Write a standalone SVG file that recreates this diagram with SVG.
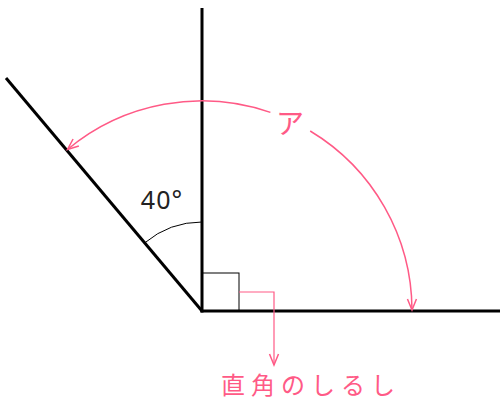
<svg xmlns="http://www.w3.org/2000/svg" width="502" height="407" viewBox="0 0 502 407">
<defs>
<style>
.ray{stroke:#000;stroke-width:3;fill:none;stroke-linecap:butt}
.thin{stroke:#000;stroke-width:1;fill:none}
.pink{stroke:#ff5a86;stroke-width:1.5;fill:none}
.pinkt{fill:#ff5a86;font-family:"Noto Sans CJK JP",sans-serif}
.blk{fill:#222;font-family:"Noto Sans","DejaVu Sans",sans-serif}
</style>
<marker id="arr" markerUnits="userSpaceOnUse" markerWidth="14" markerHeight="12" viewBox="-12 -6 14 12" refX="0" refY="0" orient="auto">
<path d="M-11,-4.5 L0,0 L-11,4.5" fill="none" stroke="#ff5a86" stroke-width="1.5"/>
</marker>
</defs>
<g id="rays">
<line class="ray" x1="202" y1="8" x2="202" y2="312.5"/>
<line class="ray" x1="200.5" y1="311" x2="500" y2="311"/>
<line class="ray" x1="6" y1="78" x2="202" y2="311"/>
</g>
<g id="angle40">
<path class="thin" d="M202,222 A89,89 0 0 0 144.8,242.8"/>
<text class="blk" x="162" y="209" font-size="25" letter-spacing="1" text-anchor="middle">40°</text>
</g>
<g id="rightangle">
<rect class="thin" x="202" y="273" width="37" height="38"/>
</g>
<g id="connectors">
<path class="pink" d="M270.4,112.4 A210,210 0 0 0 67.5,149.5" marker-end="url(#arr)"/>
<path class="pink" d="M310.2,131 A210,210 0 0 1 412,310" marker-end="url(#arr)"/>
<path class="pink" style="stroke-width:1.2" d="M239,292 H274 V365" marker-end="url(#arr)"/>
</g>
<g id="labelA">
<text class="pinkt" x="290" y="134" font-size="28" text-anchor="middle">ア</text>
</g>
<g id="labelRA">
<text class="pinkt" x="311" y="394" font-size="24" letter-spacing="6" text-anchor="middle">直角のしるし</text>
</g>
</svg>
